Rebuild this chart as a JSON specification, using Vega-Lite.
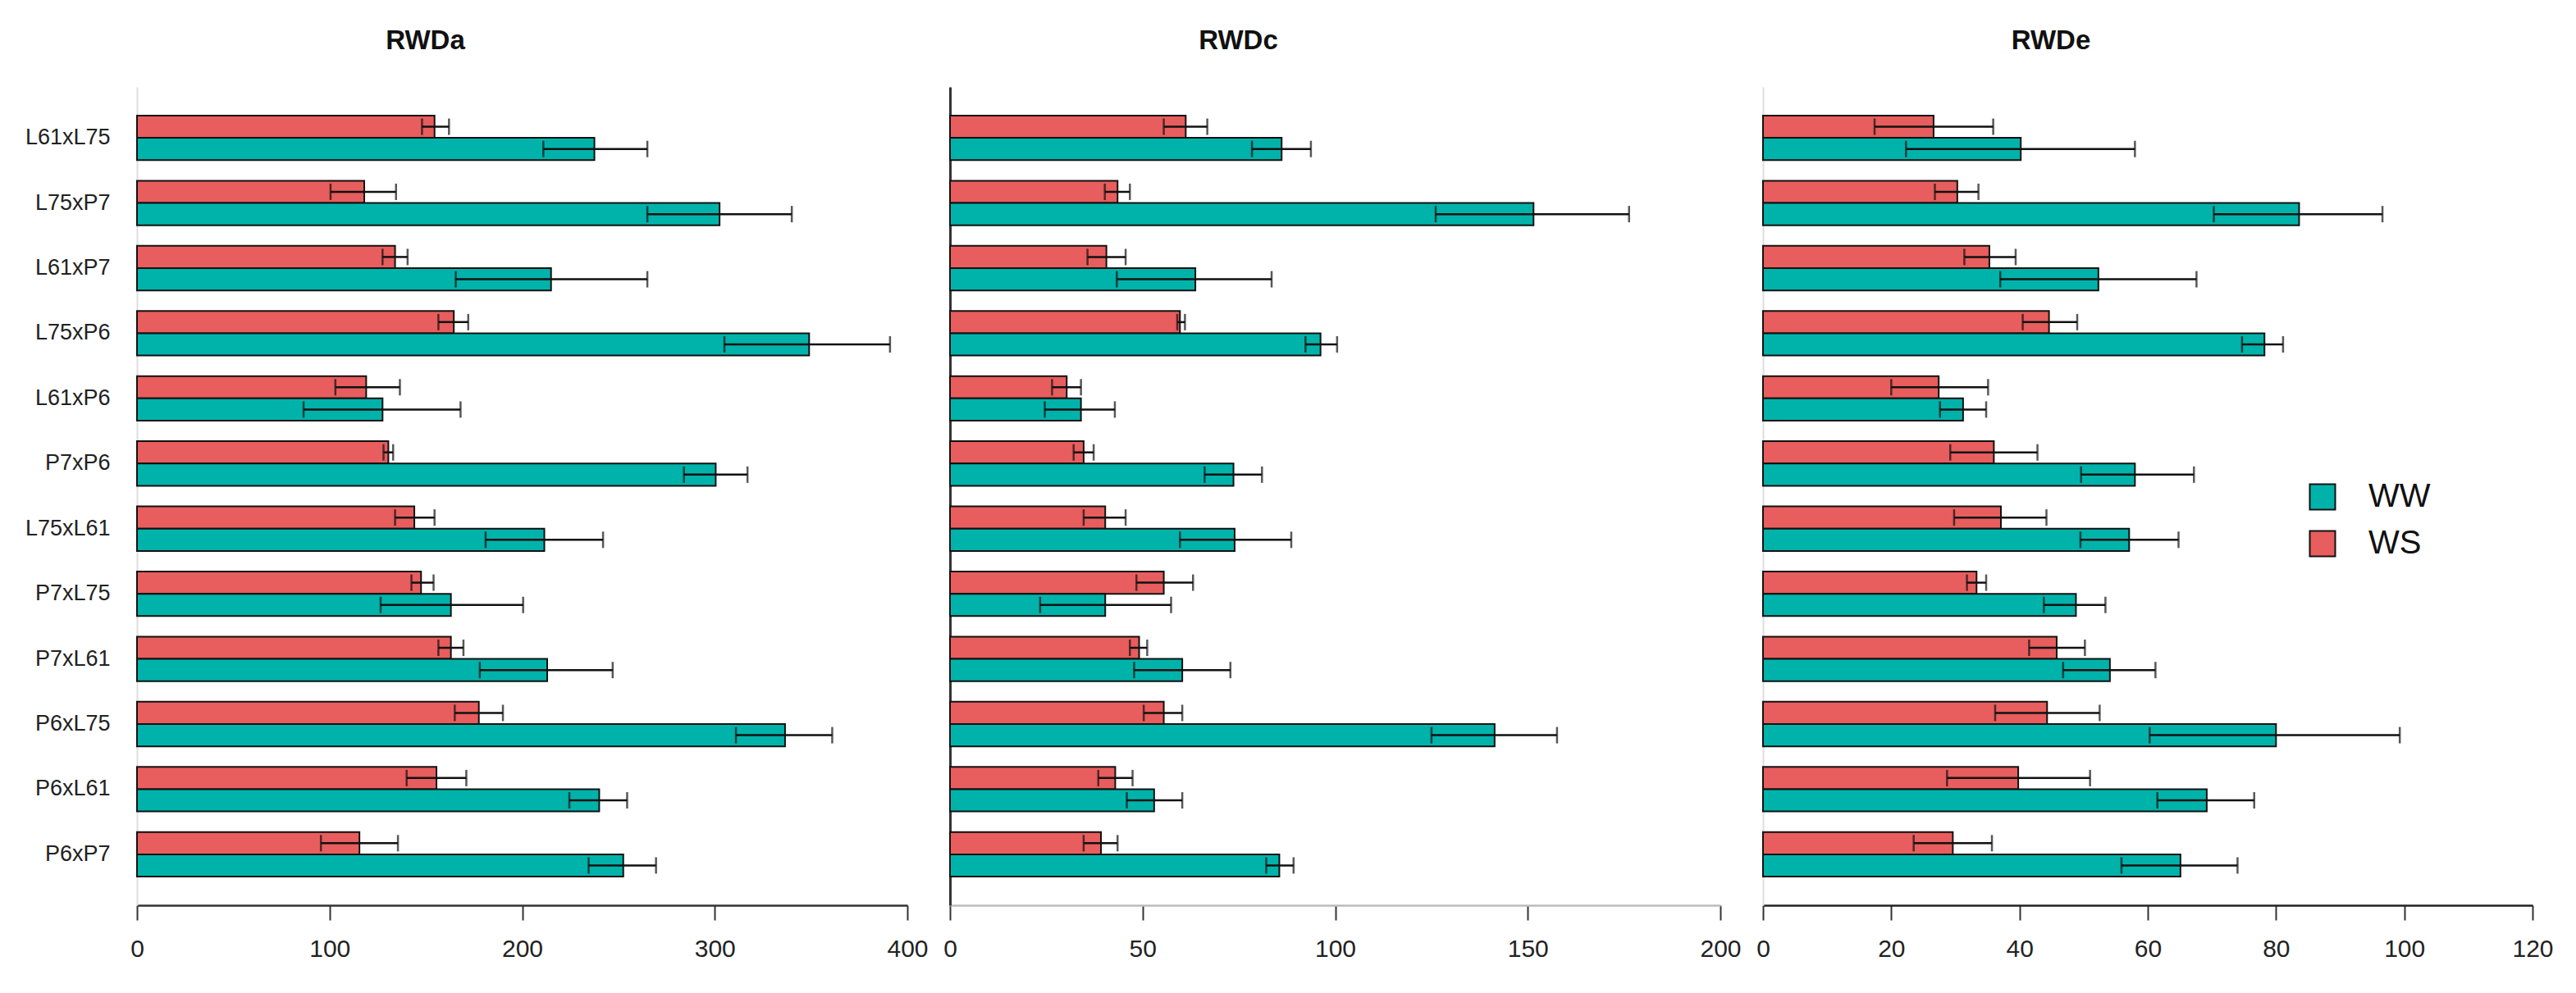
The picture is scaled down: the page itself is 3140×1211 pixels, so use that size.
{
  "$schema": "https://vega.github.io/schema/vega-lite/v6.json",
  "padding": {"left": 30, "top": 34, "right": 5, "bottom": 5},
  "background": "white",
  "bounds": "flush",
  "spacing": 52,
  "config": {"view": {"stroke": null}, "font": "Liberation Sans Narrow, Arial Narrow, Liberation Sans, Arial, sans-serif"},
  "datasets": {
    "a": [
      {"geno": "L61xL75", "cond": "WS", "mean": 154.5, "lo": 148, "hi": 162},
      {"geno": "L61xL75", "cond": "WW", "mean": 237.5, "lo": 211, "hi": 265},
      {"geno": "L75xP7", "cond": "WS", "mean": 118, "lo": 100.5, "hi": 134.5},
      {"geno": "L75xP7", "cond": "WW", "mean": 302.5, "lo": 265, "hi": 340},
      {"geno": "L61xP7", "cond": "WS", "mean": 134, "lo": 127.5, "hi": 140.5},
      {"geno": "L61xP7", "cond": "WW", "mean": 215, "lo": 165.5, "hi": 265},
      {"geno": "L75xP6", "cond": "WS", "mean": 164.5, "lo": 156.5, "hi": 172},
      {"geno": "L75xP6", "cond": "WW", "mean": 349, "lo": 305, "hi": 391},
      {"geno": "L61xP6", "cond": "WS", "mean": 119, "lo": 103, "hi": 136.5},
      {"geno": "L61xP6", "cond": "WW", "mean": 127.5, "lo": 86.5, "hi": 168},
      {"geno": "P7xP6", "cond": "WS", "mean": 130.5, "lo": 128, "hi": 133},
      {"geno": "P7xP6", "cond": "WW", "mean": 300.5, "lo": 284, "hi": 317},
      {"geno": "L75xL61", "cond": "WS", "mean": 144, "lo": 134, "hi": 154.5},
      {"geno": "L75xL61", "cond": "WW", "mean": 211.5, "lo": 181, "hi": 242},
      {"geno": "P7xL75", "cond": "WS", "mean": 147.5, "lo": 142.5, "hi": 154},
      {"geno": "P7xL75", "cond": "WW", "mean": 163, "lo": 126.5, "hi": 200.5},
      {"geno": "P7xL61", "cond": "WS", "mean": 163, "lo": 156.5, "hi": 169.5},
      {"geno": "P7xL61", "cond": "WW", "mean": 213, "lo": 178, "hi": 247},
      {"geno": "P6xL75", "cond": "WS", "mean": 177.5, "lo": 165, "hi": 190},
      {"geno": "P6xL75", "cond": "WW", "mean": 336.5, "lo": 311, "hi": 361},
      {"geno": "P6xL61", "cond": "WS", "mean": 155.5, "lo": 140, "hi": 171},
      {"geno": "P6xL61", "cond": "WW", "mean": 240, "lo": 224.5, "hi": 254.5},
      {"geno": "P6xP7", "cond": "WS", "mean": 115.5, "lo": 95.5, "hi": 135.5},
      {"geno": "P6xP7", "cond": "WW", "mean": 252.5, "lo": 234.5, "hi": 269.5}
    ],
    "c": [
      {"geno": "L61xL75", "cond": "WS", "mean": 61.2, "lo": 55.5, "hi": 66.8},
      {"geno": "L61xL75", "cond": "WW", "mean": 86.1, "lo": 78.4, "hi": 93.7},
      {"geno": "L75xP7", "cond": "WS", "mean": 43.5, "lo": 40.2, "hi": 46.7},
      {"geno": "L75xP7", "cond": "WW", "mean": 151.5, "lo": 126.1, "hi": 176.3},
      {"geno": "L61xP7", "cond": "WS", "mean": 40.6, "lo": 35.7, "hi": 45.6},
      {"geno": "L61xP7", "cond": "WW", "mean": 63.7, "lo": 43.3, "hi": 83.5},
      {"geno": "L75xP6", "cond": "WS", "mean": 59.7, "lo": 59, "hi": 61},
      {"geno": "L75xP6", "cond": "WW", "mean": 96.2, "lo": 92.3, "hi": 100.5},
      {"geno": "L61xP6", "cond": "WS", "mean": 30.3, "lo": 26.5, "hi": 34},
      {"geno": "L61xP6", "cond": "WW", "mean": 34, "lo": 24.6, "hi": 42.8},
      {"geno": "P7xP6", "cond": "WS", "mean": 34.7, "lo": 32.1, "hi": 37.3},
      {"geno": "P7xP6", "cond": "WW", "mean": 73.6, "lo": 66.1, "hi": 81},
      {"geno": "L75xL61", "cond": "WS", "mean": 40.3, "lo": 34.7, "hi": 45.6},
      {"geno": "L75xL61", "cond": "WW", "mean": 73.9, "lo": 59.7, "hi": 88.6},
      {"geno": "P7xL75", "cond": "WS", "mean": 55.5, "lo": 48.4, "hi": 63.1},
      {"geno": "P7xL75", "cond": "WW", "mean": 40.3, "lo": 23.4, "hi": 57.4},
      {"geno": "P7xL61", "cond": "WS", "mean": 49.1, "lo": 46.7, "hi": 51.2},
      {"geno": "P7xL61", "cond": "WW", "mean": 60.3, "lo": 47.8, "hi": 72.8},
      {"geno": "P6xL75", "cond": "WS", "mean": 55.5, "lo": 50.3, "hi": 60.3},
      {"geno": "P6xL75", "cond": "WW", "mean": 141.4, "lo": 125, "hi": 157.6},
      {"geno": "P6xL61", "cond": "WS", "mean": 42.9, "lo": 38.5, "hi": 47.4},
      {"geno": "P6xL61", "cond": "WW", "mean": 53, "lo": 45.9, "hi": 60.3},
      {"geno": "P6xP7", "cond": "WS", "mean": 39.2, "lo": 34.7, "hi": 43.5},
      {"geno": "P6xP7", "cond": "WW", "mean": 85.5, "lo": 82.1, "hi": 89.2}
    ],
    "e": [
      {"geno": "L61xL75", "cond": "WS", "mean": 26.6, "lo": 17.4, "hi": 35.9},
      {"geno": "L61xL75", "cond": "WW", "mean": 40.2, "lo": 22.3, "hi": 58},
      {"geno": "L75xP7", "cond": "WS", "mean": 30.3, "lo": 26.8, "hi": 33.6},
      {"geno": "L75xP7", "cond": "WW", "mean": 83.6, "lo": 70.3, "hi": 96.6},
      {"geno": "L61xP7", "cond": "WS", "mean": 35.3, "lo": 31.4, "hi": 39.4},
      {"geno": "L61xP7", "cond": "WW", "mean": 52.3, "lo": 37, "hi": 67.6},
      {"geno": "L75xP6", "cond": "WS", "mean": 44.6, "lo": 40.5, "hi": 49},
      {"geno": "L75xP6", "cond": "WW", "mean": 78.2, "lo": 74.7, "hi": 81.1},
      {"geno": "L61xP6", "cond": "WS", "mean": 27.4, "lo": 20, "hi": 35.1},
      {"geno": "L61xP6", "cond": "WW", "mean": 31.2, "lo": 27.6, "hi": 34.8},
      {"geno": "P7xP6", "cond": "WS", "mean": 36, "lo": 29.2, "hi": 42.8},
      {"geno": "P7xP6", "cond": "WW", "mean": 58, "lo": 49.6, "hi": 67.2},
      {"geno": "L75xL61", "cond": "WS", "mean": 37.1, "lo": 29.8, "hi": 44.2},
      {"geno": "L75xL61", "cond": "WW", "mean": 57.1, "lo": 49.5, "hi": 64.8},
      {"geno": "P7xL75", "cond": "WS", "mean": 33.3, "lo": 31.8, "hi": 34.8},
      {"geno": "P7xL75", "cond": "WW", "mean": 48.8, "lo": 43.8, "hi": 53.4},
      {"geno": "P7xL61", "cond": "WS", "mean": 45.8, "lo": 41.5, "hi": 50.2},
      {"geno": "P7xL61", "cond": "WW", "mean": 54.1, "lo": 46.8, "hi": 61.2},
      {"geno": "P6xL75", "cond": "WS", "mean": 44.3, "lo": 36.2, "hi": 52.5},
      {"geno": "P6xL75", "cond": "WW", "mean": 80, "lo": 60.3, "hi": 99.3},
      {"geno": "P6xL61", "cond": "WS", "mean": 39.8, "lo": 28.7, "hi": 51},
      {"geno": "P6xL61", "cond": "WW", "mean": 69.2, "lo": 61.5, "hi": 76.6},
      {"geno": "P6xP7", "cond": "WS", "mean": 29.6, "lo": 23.5, "hi": 35.7},
      {"geno": "P6xP7", "cond": "WW", "mean": 65.1, "lo": 55.9, "hi": 74}
    ]
  },
  "resolve": {"scale": {"color": "independent"}, "legend": {"color": "independent"}},
  "hconcat": [
    {
      "width": 939, "height": 998,
      "data": {"name": "a"},
      "title": {"text": "RWDa", "fontSize": 33, "fontWeight": "bold", "anchor": "middle", "dx": -118, "offset": 13, "baseline": "alphabetic", "color": "#111"},
      "encoding": {
        "y": {"field": "geno", "type": "nominal", "sort": ["L61xL75", "L75xP7", "L61xP7", "L75xP6", "L61xP6", "P7xP6", "L75xL61", "P7xL75", "P7xL61", "P6xL75", "P6xL61", "P6xP7"], "scale": {"paddingInner": 0.316, "paddingOuter": 0.44},
          "axis": {"title": null, "ticks": false, "tickSize": 0, "domainColor": "#dddddd", "domainWidth": 2, "labelFontSize": 27, "labelPadding": 33, "labelColor": "#222", "minExtent": 134, "maxExtent": 134, "labelLimit": 0}},
        "yOffset": {"field": "cond", "type": "nominal", "sort": ["WS", "WW"], "scale": {"paddingInner": 0, "paddingOuter": 0}}
      },
      "layer": [
        {"mark": {"type": "bar", "stroke": "#111", "strokeWidth": 2},
         "encoding": {
           "x": {"field": "mean", "type": "quantitative", "scale": {"domain": [0, 400], "nice": false},
             "axis": {"title": null, "values": [0, 100, 200, 300, 400], "grid": false, "domainColor": "#333", "domainWidth": 2.5, "tickColor": "#333", "tickWidth": 2, "tickSize": 18, "labelFontSize": 30, "labelColor": "#222", "labelPadding": 20, "labelFlush": false, "labelOverlap": false}},
           "color": {"field": "cond", "type": "nominal", "scale": {"domain": ["WW", "WS"], "range": ["#00B3AA", "#E85D5D"]}, "legend": null}
         }},
        {"mark": {"type": "rule", "color": "#111", "strokeWidth": 2.5},
         "encoding": {"x": {"field": "lo", "type": "quantitative"}, "x2": {"field": "hi"}}},
        {"mark": {"type": "tick", "color": "#111", "thickness": 2.5, "size": 20},
         "encoding": {"x": {"field": "lo", "type": "quantitative"}}},
        {"mark": {"type": "tick", "color": "#111", "thickness": 2.5, "size": 20},
         "encoding": {"x": {"field": "hi", "type": "quantitative"}}}
      ]
    },
    {
      "width": 939, "height": 998,
      "data": {"name": "c"},
      "title": {"text": "RWDc", "fontSize": 33, "fontWeight": "bold", "anchor": "middle", "dx": -118, "offset": 13, "baseline": "alphabetic", "color": "#111"},
      "encoding": {
        "y": {"field": "geno", "type": "nominal", "sort": ["L61xL75", "L75xP7", "L61xP7", "L75xP6", "L61xP6", "P7xP6", "L75xL61", "P7xL75", "P7xL61", "P6xL75", "P6xL61", "P6xP7"], "scale": {"paddingInner": 0.316, "paddingOuter": 0.44},
          "axis": {"title": null, "ticks": false, "labels": false, "domainColor": "#333", "domainWidth": 3}},
        "yOffset": {"field": "cond", "type": "nominal", "sort": ["WS", "WW"], "scale": {"paddingInner": 0, "paddingOuter": 0}}
      },
      "layer": [
        {"mark": {"type": "bar", "stroke": "#111", "strokeWidth": 2},
         "encoding": {
           "x": {"field": "mean", "type": "quantitative", "scale": {"domain": [0, 200], "nice": false},
             "axis": {"title": null, "values": [0, 50, 100, 150, 200], "grid": false, "domainColor": "#bbbbbb", "domainWidth": 2.5, "tickColor": "#333", "tickWidth": 2, "tickSize": 18, "labelFontSize": 30, "labelColor": "#222", "labelPadding": 20, "labelFlush": false, "labelOverlap": false}},
           "color": {"field": "cond", "type": "nominal", "scale": {"domain": ["WW", "WS"], "range": ["#00B3AA", "#E85D5D"]}, "legend": null}
         }},
        {"mark": {"type": "rule", "color": "#111", "strokeWidth": 2.5},
         "encoding": {"x": {"field": "lo", "type": "quantitative"}, "x2": {"field": "hi"}}},
        {"mark": {"type": "tick", "color": "#111", "thickness": 2.5, "size": 20},
         "encoding": {"x": {"field": "lo", "type": "quantitative"}}},
        {"mark": {"type": "tick", "color": "#111", "thickness": 2.5, "size": 20},
         "encoding": {"x": {"field": "hi", "type": "quantitative"}}}
      ]
    },
    {
      "width": 938, "height": 998,
      "data": {"name": "e"},
      "title": {"text": "RWDe", "fontSize": 33, "fontWeight": "bold", "anchor": "middle", "dx": -118, "offset": 13, "baseline": "alphabetic", "color": "#111"},
      "encoding": {
        "y": {"field": "geno", "type": "nominal", "sort": ["L61xL75", "L75xP7", "L61xP7", "L75xP6", "L61xP6", "P7xP6", "L75xL61", "P7xL75", "P7xL61", "P6xL75", "P6xL61", "P6xP7"], "scale": {"paddingInner": 0.316, "paddingOuter": 0.44},
          "axis": {"title": null, "ticks": false, "labels": false, "domainColor": "#dddddd", "domainWidth": 2}},
        "yOffset": {"field": "cond", "type": "nominal", "sort": ["WS", "WW"], "scale": {"paddingInner": 0, "paddingOuter": 0}}
      },
      "layer": [
        {"mark": {"type": "bar", "stroke": "#111", "strokeWidth": 2},
         "encoding": {
           "x": {"field": "mean", "type": "quantitative", "scale": {"domain": [0, 120], "nice": false},
             "axis": {"title": null, "values": [0, 20, 40, 60, 80, 100, 120], "grid": false, "domainColor": "#222", "domainWidth": 2.5, "tickColor": "#333", "tickWidth": 2, "tickSize": 18, "labelFontSize": 30, "labelColor": "#222", "labelPadding": 20, "labelFlush": false, "labelOverlap": false}},
           "color": {"field": "cond", "type": "nominal", "scale": {"domain": ["WW", "WS"], "range": ["#00B3AA", "#E85D5D"]},
             "legend": {"orient": "none", "legendX": 662, "legendY": 480, "title": null, "symbolType": "square", "symbolSize": 961, "symbolStrokeColor": "#111", "symbolStrokeWidth": 2, "symbolOpacity": 1, "labelFontSize": 40, "labelColor": "#111", "labelOffset": 36, "rowPadding": 17}}
         }},
        {"mark": {"type": "rule", "color": "#111", "strokeWidth": 2.5},
         "encoding": {"x": {"field": "lo", "type": "quantitative"}, "x2": {"field": "hi"}}},
        {"mark": {"type": "tick", "color": "#111", "thickness": 2.5, "size": 20},
         "encoding": {"x": {"field": "lo", "type": "quantitative"}}},
        {"mark": {"type": "tick", "color": "#111", "thickness": 2.5, "size": 20},
         "encoding": {"x": {"field": "hi", "type": "quantitative"}}}
      ]
    }
  ]
}
